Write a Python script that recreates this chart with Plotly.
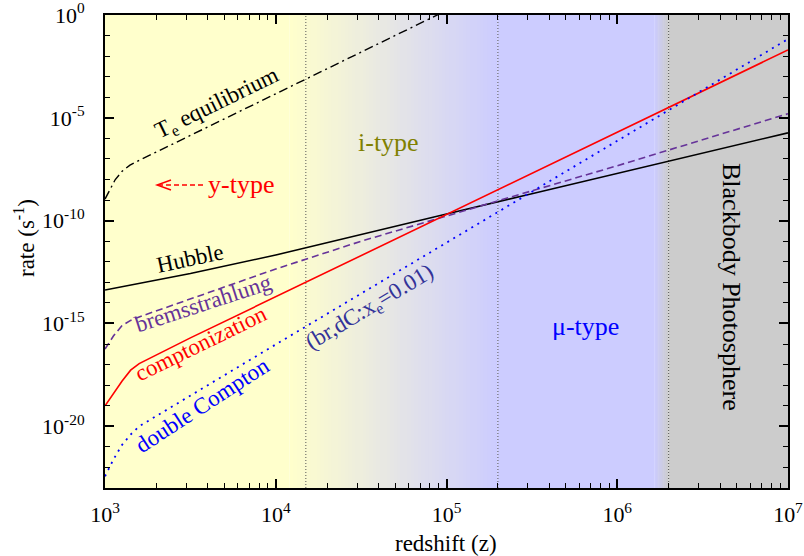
import plotly.graph_objects as go

# ---- data: log10(redshift) and log10(rate [1/s]) ----
hubble_logz = [3.0, 3.5, 4.0, 4.5, 5.0, 5.5, 6.0, 6.5, 7.0]
hubble_logr = [-13.37, -12.57, -11.67, -10.69, -9.68, -8.69, -7.71, -6.72, -5.73]

te_logz = [3.0, 3.03, 3.06, 3.1, 3.146, 3.2, 3.5, 4.0, 4.5, 5.0]
te_logr = [-8.95, -8.45, -8.0, -7.6, -7.3, -7.07, -5.86, -3.83, -1.81, 0.22]

compt_logz = [3.0, 3.05, 3.1, 3.15, 3.2, 3.5, 4.0, 5.0, 6.0, 7.0]
compt_logr = [-19.0, -18.4, -17.8, -17.27, -16.95, -15.7, -13.7, -9.7, -5.7, -1.7]

brems_logz = [3.0, 3.05, 3.1, 3.15, 3.2, 3.5, 4.0, 4.5, 5.0, 5.5, 6.0, 6.5, 7.0]
brems_logr = [-16.24, -15.6, -15.1, -14.85, -14.68, -13.8, -12.35, -11.0, -9.76, -8.55, -7.33, -6.08, -4.8]

dc_logz = [3.0, 3.05, 3.1, 3.15, 3.2, 3.5, 4.0, 5.0, 6.0, 7.0]
dc_logr = [-22.43, -21.6, -20.9, -20.4, -20.0, -18.5, -16.02, -11.07, -6.12, -1.17]

# era boundaries (redshift)
boundaries_z = [1.5e4, 2e5, 2e6]

x_tickvals = [1e3, 1e4, 1e5, 1e6, 1e7]
x_ticktext = ["10<sup>3</sup>", "10<sup>4</sup>", "10<sup>5</sup>", "10<sup>6</sup>", "10<sup>7</sup>"]
y_tickvals = [1e0, 1e-5, 1e-10, 1e-15, 1e-20]
y_ticktext = ["10<sup>0</sup>", "10<sup>-5</sup>", "10<sup>-10</sup>", "10<sup>-15</sup>", "10<sup>-20</sup>"]
x_minor = [m * 10 ** e for e in range(3, 7) for m in range(2, 10)]
y_minor = [10.0 ** (-k) for k in range(0, 24)]

LX0, LX1 = 3.0, 7.0
LY0, LY1 = -23.0, 0.0
EPS = 2e-4
FONT = "Liberation Serif"

def pw(v):
    return [10 ** a for a in v]

fig = go.Figure()

fig.add_trace(go.Scatter(x=pw(hubble_logz), y=pw(hubble_logr), mode="lines",
                         line=dict(color="black", width=1.6), name="Hubble"))
fig.add_trace(go.Scatter(x=pw(te_logz), y=pw(te_logr), mode="lines",
                         line=dict(color="black", width=1.4, dash="9px,4px,2px,4px"),
                         name="Te equilibrium"))
fig.add_trace(go.Scatter(x=pw(brems_logz), y=pw(brems_logr), mode="lines",
                         line=dict(color="#663399", width=1.6, dash="7px,4px"),
                         name="bremsstrahlung"))
fig.add_trace(go.Scatter(x=pw(compt_logz), y=pw(compt_logr), mode="lines",
                         line=dict(color="#ff0000", width=1.6), name="comptonization"))
fig.add_trace(go.Scatter(x=pw(dc_logz), y=pw(dc_logr), mode="lines",
                         line=dict(color="#0000ff", width=1.8, dash="2px,5px"),
                         name="double Compton"))

shapes = []

def px_x(lz):
    return (lz - LX0) / (LX1 - LX0)

def rect(l0, l1, col):
    shapes.append(dict(type="rect", xref="paper", yref="paper",
                       x0=px_x(l0), x1=px_x(l1), y0=0, y1=1,
                       fillcolor=col, line=dict(width=0), layer="below"))

def mix(c0, c1, t):
    return "rgb(%d,%d,%d)" % tuple(round(a + (b - a) * t) for a, b in zip(c0, c1))

yellow = (255, 255, 204)
blue = (204, 204, 255)
grey = (204, 204, 204)

rect(3.0, 4.08, mix(yellow, yellow, 0))
n = 60
g0, g1 = 4.08, 5.30
for i in range(n):
    a = g0 + (g1 - g0) * i / n
    b = g0 + (g1 - g0) * (i + 1.3) / n
    rect(a, min(b, g1), mix(yellow, blue, (i + 0.5) / n))
rect(5.30, 6.22, mix(blue, blue, 0))
m = 8
h0, h1 = 6.22, 6.30
for i in range(m):
    a = h0 + (h1 - h0) * i / m
    b = h0 + (h1 - h0) * (i + 1.3) / m
    rect(a, min(b, h1), mix(blue, grey, (i + 0.5) / m))
rect(6.30, 7.0, mix(grey, grey, 0))

for zb in boundaries_z:
    shapes.append(dict(type="line", xref="x", yref="paper", x0=zb, x1=zb, y0=0, y1=1,
                       line=dict(color="#555555", width=1, dash="1px,2px"), layer="below"))

# ---- annotation helpers (pixel positions -> paper) ----
PL, PR, PT, PB = 105, 788, 15, 488

def ppx(x):
    return (x - PL) / (PR - PL)

def ppy(y):
    return (PB - y) / (PB - PT)

# y-type arrow: dashed shaft + open head
shapes.append(dict(type="line", xref="paper", yref="paper",
                   x0=ppx(158), x1=ppx(205), y0=ppy(185), y1=ppy(185),
                   line=dict(color="#ff0000", width=1.4, dash="5px,3px")))
shapes.append(dict(type="path", xref="paper", yref="paper",
                   path="M %f %f L %f %f L %f %f" % (ppx(171), ppy(180), ppx(157), ppy(185), ppx(171), ppy(190)),
                   line=dict(color="#ff0000", width=1.4)))

ann = []

def label(text, x, y, color, size, angle=0):
    ann.append(dict(text=text, xref="paper", yref="paper", x=ppx(x), y=ppy(y),
                    xanchor="center", yanchor="middle", showarrow=False,
                    textangle=angle, font=dict(family=FONT, size=size, color=color)))

label("T<sub>e</sub> equilibrium", 217, 104, "black", 23, -26)
label("y-type", 241, 184, "#ff0000", 26)
label("Hubble", 190, 258, "black", 23, -12)
label("bremsstrahlung", 203, 303, "#663399", 23, -18)
label("comptonization", 201, 343, "#ff0000", 23, -26)
label("double Compton", 202, 405, "#0000ff", 23, -33)
label("(br,dC:x<sub>e</sub>=0.01)", 370, 308, "#333399", 23, -31)
label("i-type", 388, 142, "#808000", 26)
label("μ-type", 585, 326, "#0000ff", 26)
label("Blackbody Photosphere", 732, 287, "black", 26, 90)
label("redshift (z)", 446, 543, "black", 23)
label("rate (s<sup>-1</sup>)", 24, 238, "black", 23, -90)

axis_common = dict(type="log", showgrid=False, zeroline=False, showline=True,
                   linecolor="black", linewidth=2, mirror="allticks",
                   ticks="inside", ticklen=9, tickwidth=1.5, tickcolor="black",
                   ticklabeloverflow="allow", automargin=False,
                   tickfont=dict(family=FONT, size=22, color="black"))

fig.update_xaxes(range=[LX0 - EPS, LX1 + EPS], tickmode="array", tickvals=x_tickvals, ticktext=x_ticktext,
                 minor=dict(tickmode="array", tickvals=x_minor, ticks="inside", ticklen=5,
                            tickwidth=1.2, tickcolor="black"),
                 ticklabelstandoff=6, **axis_common)
fig.update_yaxes(range=[LY0 - EPS, LY1 + EPS], tickmode="array", tickvals=y_tickvals, ticktext=y_ticktext,
                 minor=dict(tickmode="array", tickvals=y_minor, ticks="inside", ticklen=5,
                            tickwidth=1.2, tickcolor="black"),
                 ticklabelstandoff=14, **axis_common)

fig.update_layout(width=804, height=556, margin=dict(l=PL, r=804 - PR, t=PT, b=556 - PB),
                  paper_bgcolor="white", plot_bgcolor="white", showlegend=False,
                  shapes=shapes, annotations=ann,
                  font=dict(family=FONT, color="black"))

fig.write_html("out.html", config={"displayModeBar": False},
               post_script="document.body.style.margin='0px';document.body.style.overflow='hidden';")
